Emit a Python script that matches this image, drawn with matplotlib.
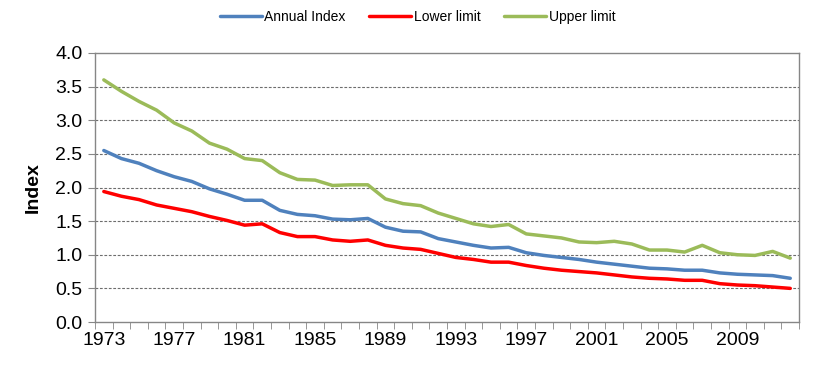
import matplotlib
matplotlib.use("Agg")
import matplotlib.pyplot as plt
import numpy as np

years = list(range(1973, 2013))
annual_index = [2.55, 2.43, 2.36, 2.25, 2.16, 2.09, 1.98, 1.90, 1.81, 1.81,
                1.66, 1.60, 1.58, 1.53, 1.52, 1.54, 1.41, 1.35, 1.34, 1.24,
                1.19, 1.14, 1.10, 1.11, 1.03, 0.99, 0.96, 0.93, 0.89, 0.86,
                0.83, 0.80, 0.79, 0.77, 0.77, 0.73, 0.71, 0.70, 0.69, 0.65]
lower_limit = [1.94, 1.87, 1.82, 1.74, 1.69, 1.64, 1.57, 1.51, 1.44, 1.46,
               1.33, 1.27, 1.27, 1.22, 1.20, 1.22, 1.14, 1.10, 1.08, 1.02,
               0.96, 0.93, 0.89, 0.89, 0.84, 0.80, 0.77, 0.75, 0.73, 0.70,
               0.67, 0.65, 0.64, 0.62, 0.62, 0.57, 0.55, 0.54, 0.52, 0.50]
upper_limit = [3.60, 3.43, 3.28, 3.15, 2.96, 2.84, 2.66, 2.57, 2.43, 2.40,
               2.22, 2.12, 2.11, 2.03, 2.04, 2.04, 1.83, 1.76, 1.73, 1.62,
               1.54, 1.46, 1.42, 1.45, 1.31, 1.28, 1.25, 1.19, 1.18, 1.20,
               1.16, 1.07, 1.07, 1.04, 1.14, 1.03, 1.00, 0.99, 1.05, 0.95]
year_labels = list(range(1973, 2012, 4))
y_ticks = [0.0, 0.5, 1.0, 1.5, 2.0, 2.5, 3.0, 3.5, 4.0]

plt.rcParams['font.family'] = ['Liberation Sans', 'DejaVu Sans']

fig = plt.figure(figsize=(8.27, 3.67), dpi=100)
ax = fig.add_axes([0.1149, 0.1226, 0.8513, 0.733])

ax.plot(years, annual_index, color='#4F81BD', lw=2.5, label='Annual Index', solid_capstyle='round')
ax.plot(years, lower_limit, color='#FF0000', lw=2.5, label='Lower limit', solid_capstyle='round')
ax.plot(years, upper_limit, color='#9BBB59', lw=2.5, label='Upper limit', solid_capstyle='round')

ax.set_xlim(1972.5, 2012.5)
ax.set_ylim(0, 4.0)
ax.set_yticks(y_ticks)
ax.set_yticklabels([f"{v:.1f}" for v in y_ticks], fontsize=14)
ax.set_xticks(year_labels)
ax.set_xticklabels([str(y) for y in year_labels], fontsize=14)
ax.set_xticks(np.arange(1972.5, 2013.0, 1.0), minor=True)
ax.tick_params(axis='x', which='major', length=0, pad=7)
ax.tick_params(axis='x', which='minor', length=5, color='#868686', direction='out')
ax.tick_params(axis='y', which='major', length=5, color='#868686', direction='out', pad=4)

for v in y_ticks[1:-1]:
    ax.axhline(v, color='#6d6d6d', lw=0.8, ls=(0, (2.5, 1.5)), zorder=0)

for s in ax.spines.values():
    s.set_color('#868686')
    s.set_linewidth(1.0)

ax.set_ylabel('Index', fontsize=14, fontweight='bold', labelpad=10)

fig.legend(loc='center', bbox_to_anchor=(0.505, 0.953), ncol=3, frameon=False,
           fontsize=10, handlelength=3.0, columnspacing=1.7, handletextpad=0.2)

fig.savefig('out.png', dpi=100)
